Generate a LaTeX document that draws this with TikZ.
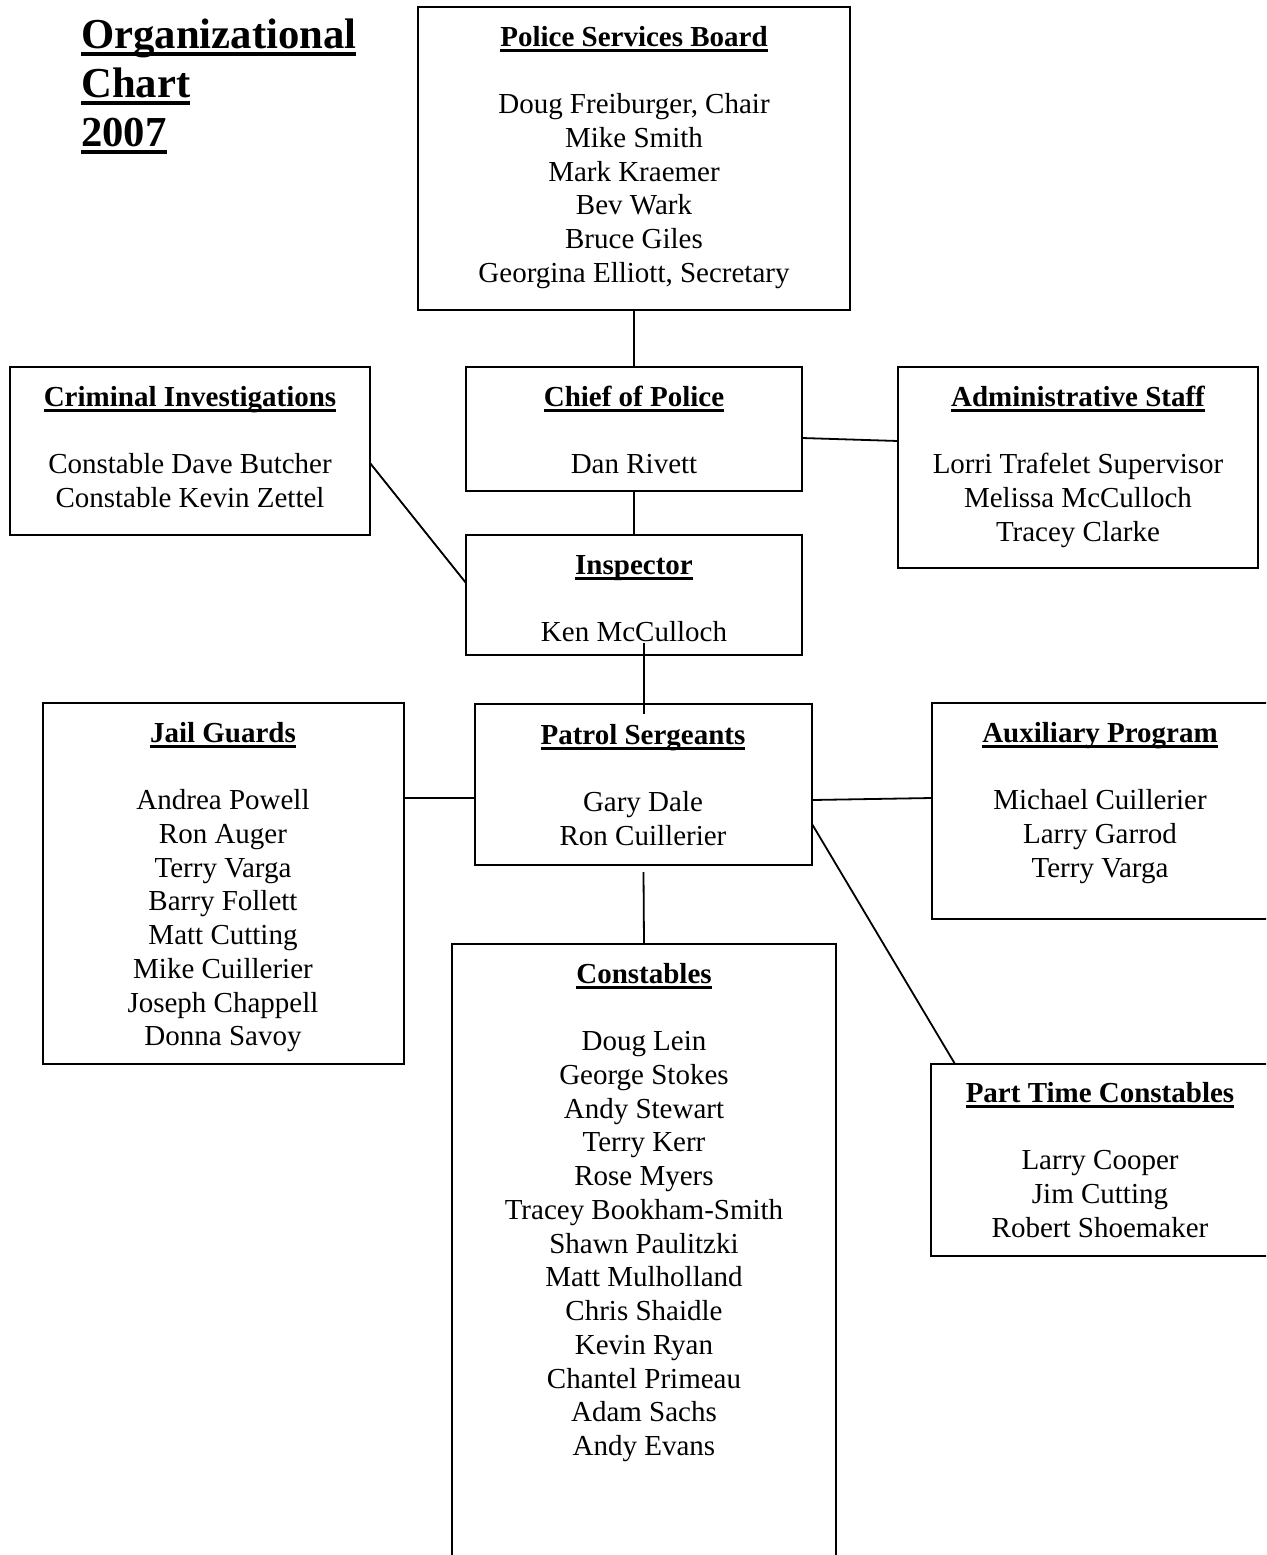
\documentclass[tikz,border=0pt]{standalone}
\usepackage{fontspec}
\setmainfont{Liberation Serif}
\usetikzlibrary{calc}
\newcommand\myul[3]{\setbox0=\hbox{#1}\leavevmode\rlap{\vrule width\wd0 height -#2 depth #3}\box0}
\newcommand\hd[1]{\rule{0pt}{25pt}\myul{\bfseries #1}{2.5pt}{5.5pt}}
\newcommand\ttl[1]{\myul{#1}{4pt}{8pt}}
\begin{document}
\begin{tikzpicture}[x=1pt,y=-1pt,
  box/.style={draw, line width=1.8pt, inner sep=0pt, outer sep=0pt},
  txt/.style={align=center, inner sep=0pt, anchor=north, font=\fontsize{29}{33.75}\selectfont},
  link/.style={line width=1.8pt}]
\useasboundingbox (0,0) rectangle (1266,1555);
\clip (0,0) rectangle (1266,1555);
\fill[white] (0,0) rectangle (1266,1555);

% title (first baseline at y=48)
\node[anchor=north west, inner sep=0pt, align=left, font=\fontsize{42.7}{49}\selectfont\bfseries] (title) at (81,13)
  {\rule{0pt}{35pt}\ttl{Organizational}\\ \ttl{Chart}\\ \ttl{2007}};

% boxes
\node[box, minimum width=432, minimum height=303] (psb) at (634,158.5) {};
\node[box, minimum width=360, minimum height=168] (crim) at (190,451) {};
\node[box, minimum width=336, minimum height=124] (chief) at (634,429) {};
\node[box, minimum width=360, minimum height=201] (admin) at (1078,467.5) {};
\node[box, minimum width=336, minimum height=120] (insp) at (634,595) {};
\node[box, minimum width=361, minimum height=361] (jail) at (223.5,883.5) {};
\node[box, minimum width=337, minimum height=161] (patrol) at (643.5,784.5) {};
\node[box, minimum width=337, minimum height=216] (aux) at (1100.5,811) {};
\node[box, minimum width=384, minimum height=636] (const) at (644,1262) {};
\node[box, minimum width=338, minimum height=192] (part) at (1100,1160) {};

% texts (node top = header baseline - 25)
\node[txt] (psbt) at (634,21) {\hd{Police Services Board}\\[33.75pt]
  Doug Freiburger, Chair\\ Mike Smith\\ Mark Kraemer\\ Bev Wark\\ Bruce Giles\\ Georgina Elliott, Secretary};
\node[txt] (crimt) at (190,381) {\hd{Criminal Investigations}\\[33.75pt]
  Constable Dave Butcher\\ Constable Kevin Zettel};
\node[txt] (chieft) at (634,381) {\hd{Chief of Police}\\[33.75pt] Dan Rivett};
\node[txt] (admint) at (1078,381) {\hd{Administrative Staff}\\[33.75pt]
  Lorri Trafelet Supervisor\\ Melissa McCulloch\\ Tracey Clarke};
\node[txt] (inspt) at (634,549) {\hd{Inspector}\\[33.75pt] Ken McCulloch};
\node[txt] (jailt) at (223,717) {\hd{Jail Guards}\\[33.75pt]
  Andrea Powell\\ Ron Auger\\ Terry Varga\\ Barry Follett\\ Matt Cutting\\ Mike Cuillerier\\ Joseph Chappell\\ Donna Savoy};
\node[txt] (patrolt) at (643,719) {\hd{Patrol Sergeants}\\[33.75pt] Gary Dale\\ Ron Cuillerier};
\node[txt] (auxt) at (1100,717) {\hd{Auxiliary Program}\\[33.75pt]
  Michael Cuillerier\\ Larry Garrod\\ Terry Varga};
\node[txt] (constt) at (644,958) {\hd{Constables}\\[33.75pt]
  Doug Lein\\ George Stokes\\ Andy Stewart\\ Terry Kerr\\ Rose Myers\\ Tracey Bookham-Smith\\ Shawn Paulitzki\\ Matt Mulholland\\ Chris Shaidle\\ Kevin Ryan\\ Chantel Primeau\\ Adam Sachs\\ Andy Evans};
\node[txt] (partt) at (1100,1077) {\hd{Part Time Constables}\\[33.75pt]
  Larry Cooper\\ Jim Cutting\\ Robert Shoemaker};

% connectors
\draw[link] (psb.south) -- (chief.north);
\draw[link] (chief.south) -- (insp.north);
\draw[link] ($(chief.east)+(0,9)$) -- ($(admin.west)+(0,-26.5)$);
\draw[link] ($(crim.east)+(0,12)$) -- ($(insp.west)+(0,-12)$);
\draw[link] ($(insp.south)+(10,-12)$) -- ($(patrol.north)+(0.5,10)$);
\draw[link] ($(jail.east)+(0,-85.5)$) -- ($(patrol.west)+(0,13.5)$);
\draw[link] ($(patrol.east)+(0,15.5)$) -- ($(aux.west)+(0,-13)$);
\draw[link] ($(patrol.east)+(0,39.5)$) -- ($(part.north west)+(24,0)$);
\draw[link] ($(patrol.south)+(0,7)$) -- (const.north);
\end{tikzpicture}
\end{document}
